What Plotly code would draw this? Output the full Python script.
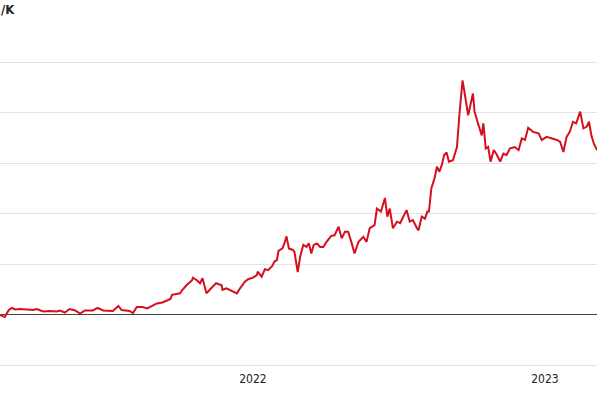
import plotly.graph_objects as go

dates = [
    "2021-02-19", "2021-02-25", "2021-03-02", "2021-03-06", "2021-03-10", "2021-03-16",
    "2021-03-25", "2021-04-01", "2021-04-06", "2021-04-14", "2021-04-22", "2021-05-01",
    "2021-05-05", "2021-05-11", "2021-05-17", "2021-05-24", "2021-05-30", "2021-06-05",
    "2021-06-15", "2021-06-21", "2021-06-28", "2021-07-10", "2021-07-17", "2021-07-21",
    "2021-07-31", "2021-08-04", "2021-08-09", "2021-08-16", "2021-08-22", "2021-08-29",
    "2021-09-03", "2021-09-10", "2021-09-15", "2021-09-20", "2021-09-22", "2021-10-02",
    "2021-10-05", "2021-10-10", "2021-10-17", "2021-10-18", "2021-10-23", "2021-10-27",
    "2021-10-30", "2021-11-04", "2021-11-08", "2021-11-12", "2021-11-16", "2021-11-23",
    "2021-11-24", "2021-11-29", "2021-12-03", "2021-12-07", "2021-12-12", "2021-12-16",
    "2021-12-22", "2021-12-26", "2022-01-01", "2022-01-06", "2022-01-07", "2022-01-12",
    "2022-01-16", "2022-01-20", "2022-01-25", "2022-01-28", "2022-01-31", "2022-02-02",
    "2022-02-07", "2022-02-10", "2022-02-12", "2022-02-15", "2022-02-20", "2022-02-22",
    "2022-02-26", "2022-03-01", "2022-03-05", "2022-03-09", "2022-03-12", "2022-03-15",
    "2022-03-18", "2022-03-22", "2022-03-26", "2022-03-30", "2022-04-03", "2022-04-09",
    "2022-04-13", "2022-04-18", "2022-04-22", "2022-04-26", "2022-04-30", "2022-05-04",
    "2022-05-08", "2022-05-13", "2022-05-19", "2022-05-23", "2022-05-27", "2022-06-02",
    "2022-06-05", "2022-06-10", "2022-06-15", "2022-06-18", "2022-06-21", "2022-06-25",
    "2022-06-30", "2022-07-04", "2022-07-08", "2022-07-12", "2022-07-16", "2022-07-20",
    "2022-07-25", "2022-07-27", "2022-07-31", "2022-08-04", "2022-08-07", "2022-08-09",
    "2022-08-12", "2022-08-16", "2022-08-19", "2022-08-22", "2022-08-25", "2022-08-28",
    "2022-08-31", "2022-09-03", "2022-09-08", "2022-09-13", "2022-09-16", "2022-09-20",
    "2022-09-23", "2022-09-27", "2022-10-03", "2022-10-05", "2022-10-10", "2022-10-14",
    "2022-10-16", "2022-10-19", "2022-10-22", "2022-10-25", "2022-10-29", "2022-11-02",
    "2022-11-06", "2022-11-10", "2022-11-14", "2022-11-18", "2022-11-24", "2022-11-29",
    "2022-12-03", "2022-12-07", "2022-12-11", "2022-12-17", "2022-12-24", "2022-12-28",
    "2023-01-03", "2023-01-09", "2023-01-16", "2023-01-20", "2023-01-24", "2023-01-28",
    "2023-02-01", "2023-02-05", "2023-02-09", "2023-02-14", "2023-02-18", "2023-02-22",
    "2023-02-25", "2023-02-28", "2023-03-03", "2023-03-07",
]

values = [
    -0.01, -0.05, 0.09, 0.13, 0.10, 0.11,
    0.10, 0.09, 0.11, 0.06, 0.07, 0.06,
    0.08, 0.04, 0.11, 0.08, 0.02, 0.08,
    0.08, 0.13, 0.08, 0.07, 0.17, 0.09,
    0.07, 0.03, 0.15, 0.15, 0.12, 0.18,
    0.22, 0.24, 0.27, 0.31, 0.39, 0.42,
    0.49, 0.58, 0.68, 0.73, 0.68, 0.62,
    0.72, 0.42, 0.49, 0.55, 0.62, 0.58,
    0.49, 0.52, 0.49, 0.47, 0.42, 0.52,
    0.65, 0.70, 0.73, 0.78, 0.85, 0.75,
    0.90, 0.88, 0.96, 1.05, 1.08, 1.26,
    1.31, 1.44, 1.55, 1.31, 1.28, 1.24,
    0.84, 1.14, 1.38, 1.34, 1.41, 1.21,
    1.38, 1.41, 1.34, 1.34, 1.44, 1.56,
    1.57, 1.74, 1.51, 1.64, 1.64, 1.44,
    1.21, 1.44, 1.54, 1.44, 1.71, 1.77,
    2.10, 2.04, 2.31, 1.94, 2.10, 1.71,
    1.84, 1.81, 1.94, 2.07, 1.84, 1.87,
    1.71, 1.67, 1.94, 1.90, 2.04, 2.04,
    2.50, 2.70, 2.93, 2.83, 2.96, 3.16,
    3.21, 3.03, 3.06, 3.32, 3.95, 4.64,
    4.35, 3.95, 4.38, 4.02, 3.75, 3.55,
    3.79, 3.29, 3.32, 3.03, 3.26, 3.16,
    3.03, 3.19, 3.16, 3.29, 3.32, 3.26,
    3.49, 3.46, 3.70, 3.62, 3.59, 3.46,
    3.52, 3.49, 3.46, 3.42, 3.22, 3.52,
    3.62, 3.82, 3.79, 4.02, 3.69, 3.72,
    3.82, 3.55, 3.39, 3.26,
]

tick_dates = ["2022-01-01", "2023-01-01"]
tick_labels = ["2022", "2023"]
unit_label = "/K"

FONT = "Liberation Sans Narrow, DejaVu Sans Condensed, Roboto, sans-serif"

fig = go.Figure()
fig.add_trace(go.Scatter(
    x=dates, y=values, mode="lines",
    line=dict(color="#d4101f", width=2),
    hoverinfo="skip", showlegend=False,
))

fig.update_layout(
    width=597, height=398,
    margin=dict(l=0, r=0, t=37, b=33, autoexpand=False),
    paper_bgcolor="white", plot_bgcolor="white",
    font=dict(family=FONT, size=12, color="#333333"),
    xaxis=dict(
        range=["2021-02-19", "2023-03-07"],
        tickvals=tick_dates, ticktext=tick_labels,
        showgrid=False, zeroline=False,
        showline=True, linecolor="#e3e3e3", linewidth=1,
        ticks="outside", ticklen=3, tickcolor="rgba(0,0,0,0)",
        tickfont=dict(size=12, color="#222222"),
    ),
    yaxis=dict(
        range=[-1.0, 5.5], dtick=1, tick0=0,
        showticklabels=False, ticks="",
        showgrid=True, gridcolor="#e3e3e3", gridwidth=1,
        zeroline=True, zerolinecolor="#444444", zerolinewidth=1,
    ),
    annotations=[dict(
        text="<b>" + unit_label + "</b>", xref="paper", yref="paper",
        x=0, y=1, xanchor="left", yanchor="bottom", xshift=-1, yshift=18,
        showarrow=False, font=dict(family=FONT, size=13, color="#222222"),
    )],
)

fig.write_html(
    "out.html",
    config={"displayModeBar": False, "staticPlot": True},
    post_script="document.body.style.margin='0';document.body.style.padding='0';document.body.style.overflow='hidden';",
)
